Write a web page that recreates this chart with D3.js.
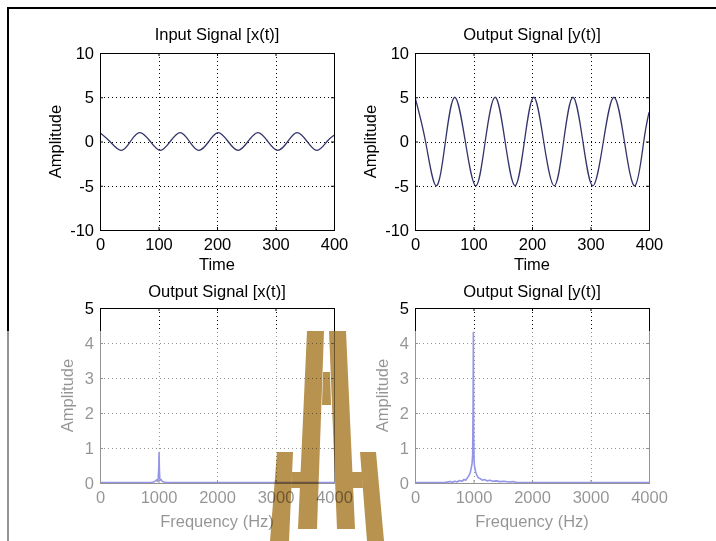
<!DOCTYPE html>
<html>
<head>
<meta charset="utf-8">
<script src="https://cdn.jsdelivr.net/npm/d3@7/dist/d3.min.js"></script>
<style>
  body { margin: 0; background: #fff; }
  svg text { font-family: "Liberation Sans", Arial, sans-serif; font-size: 16.5px; fill: #000; }
</style>
</head>
<body>
<div id="chart"></div>
<script>
// tick labels
var timeTicks = [0, 100, 200, 300, 400];
var ampTicks = [-10, -5, 0, 5, 10];
var freqTicks = [0, 1000, 2000, 3000, 4000];
var specTicks = [0, 1, 2, 3, 4, 5];

// x(t)
var inputTime = [0, 17, 36, 52, 68, 86, 103, 120, 137, 153, 169, 186, 202, 219, 236, 253, 270, 287, 304, 321, 337, 354, 371, 388, 400];
var inputAmp  = [1, 0, -1, 0, 1, 0, -1, 0, 1, 0, -1, 0, 1, 0, -1, 0, 1, 0, -1, 0, 1, 0, -1, 0, 0.7];

// y(t)
var outputTime = [0, 18, 36, 52, 68, 86, 104, 120, 137, 154, 171, 187, 203, 220, 238, 254, 270, 287, 304, 322, 340, 358, 376, 391, 400];
var outputAmp  = [5, 0, -5, 0, 5, 0, -5, 0, 5, 0, -5, 0, 5, 0, -5, 0, 5, 0, -5, 0, 5, 0, -5, 0, 3.3];

// spectrum of x
var specXFreq = [0, 800, 880, 920, 950, 970, 985, 995, 1005, 1010, 1015, 1022, 1030, 1045, 1060, 1090, 1150, 4000];
var specXAmp  = [0.01, 0.01, 0.02, 0.03, 0.06, 0.09, 0.05, 0.12, 0.45, 0.87, 0.4, 0.12, 0.08, 0.1, 0.05, 0.03, 0.01, 0.01];

// spectrum of y
var specYFreq = [0, 500, 600, 640, 680, 720, 760, 800, 840, 870, 900, 925, 945, 960, 975, 985, 993, 998, 1003, 1010, 1020, 1035, 1050, 1070, 1090, 1120, 1150, 1190, 1230, 1280, 1330, 1390, 1450, 1520, 1600, 1680, 1750, 2000, 4000];
var specYAmp  = [0.01, 0.01, 0.04, 0.02, 0.05, 0.03, 0.07, 0.05, 0.1, 0.08, 0.16, 0.22, 0.3, 0.42, 0.55, 0.8, 2.2, 4.3, 1.4, 0.6, 0.45, 0.33, 0.25, 0.18, 0.14, 0.12, 0.08, 0.1, 0.06, 0.08, 0.05, 0.06, 0.04, 0.05, 0.03, 0.04, 0.01, 0.01, 0.01];

var width = 716, height = 541;
var plainNum = function (d) { return String(d); }; // hyphen minus, no thousands comma

var svg = d3.select('#chart').append('svg')
    .attr('width', width)
    .attr('height', height);

svg.append('rect').attr('width', width).attr('height', height).attr('fill', '#fff');

// window frame (top and left edge)
svg.append('path')
    .attr('d', 'M8,' + height + 'V8H' + width)
    .attr('fill', 'none')
    .attr('stroke', '#000')
    .attr('stroke-width', 2);

var panels = [
    { left: 100, right: 334, top: 53, bottom: 230, xDom: [0, 400], yDom: [-10, 10],
      xTicks: timeTicks, yTicks: ampTicks, title: 'Input Signal [x(t)]', xLabel: 'Time',
      xs: inputTime, ys: inputAmp, color: '#34346c', width: 1.3, curve: d3.curveNatural,
      titleY: 40, xLabelY: 270, yLabelOff: 39 },
    { left: 415, right: 649, top: 53, bottom: 230, xDom: [0, 400], yDom: [-10, 10],
      xTicks: timeTicks, yTicks: ampTicks, title: 'Output Signal [y(t)]', xLabel: 'Time',
      xs: outputTime, ys: outputAmp, color: '#34346c', width: 1.3, curve: d3.curveNatural,
      titleY: 40, xLabelY: 270, yLabelOff: 39 },
    { left: 100, right: 334, top: 308, bottom: 483, xDom: [0, 4000], yDom: [0, 5],
      xTicks: freqTicks, yTicks: specTicks, title: 'Output Signal [x(t)]', xLabel: 'Frequency (Hz)',
      xs: specXFreq, ys: specXAmp, color: '#0000c8', width: 1.6, curve: d3.curveLinear,
      titleY: 297, xLabelY: 527, yLabelOff: 27 },
    { left: 415, right: 649, top: 308, bottom: 483, xDom: [0, 4000], yDom: [0, 5],
      xTicks: freqTicks, yTicks: specTicks, title: 'Output Signal [y(t)]', xLabel: 'Frequency (Hz)',
      xs: specYFreq, ys: specYAmp, color: '#0000c8', width: 1.6, curve: d3.curveLinear,
      titleY: 297, xLabelY: 527, yLabelOff: 27 }
];

panels.forEach(function (p, i) {
    var x = d3.scaleLinear().domain(p.xDom).range([p.left, p.right]);
    var y = d3.scaleLinear().domain(p.yDom).range([p.bottom, p.top]);
    var g = svg.append('g');

    // dotted grid, interior ticks only
    g.selectAll('.vgrid')
        .data(p.xTicks.slice(1, -1))
        .enter().append('line')
        .attr('x1', function (d) { return Math.round(x(d)) + 0.5; })
        .attr('x2', function (d) { return Math.round(x(d)) + 0.5; })
        .attr('y1', p.top).attr('y2', p.bottom)
        .attr('stroke', '#000').attr('stroke-dasharray', '1,3');
    g.selectAll('.hgrid')
        .data(p.yTicks.slice(1, -1))
        .enter().append('line')
        .attr('y1', function (d) { return Math.round(y(d)) + 0.5; })
        .attr('y2', function (d) { return Math.round(y(d)) + 0.5; })
        .attr('x1', p.left).attr('x2', p.right)
        .attr('stroke', '#000').attr('stroke-dasharray', '1,3');

    // the signal
    var clipId = 'clip' + i;
    g.append('clipPath').attr('id', clipId)
        .append('rect')
        .attr('x', p.left).attr('y', p.top - 1)
        .attr('width', p.right - p.left).attr('height', p.bottom - p.top + 1);
    var line = d3.line()
        .x(function (d) { return x(d[0]); })
        .y(function (d) { return y(d[1]); })
        .curve(p.curve);
    g.append('path')
        .datum(d3.zip(p.xs, p.ys))
        .attr('clip-path', 'url(#' + clipId + ')')
        .attr('d', line)
        .attr('fill', 'none')
        .attr('stroke', p.color)
        .attr('stroke-width', p.width)
        .attr('stroke-linejoin', 'round');

    // axes, matlab style ticks pointing inward
    g.append('g')
        .attr('transform', 'translate(0,' + p.bottom + ')')
        .call(d3.axisBottom(x).tickValues(p.xTicks).tickFormat(plainNum)
            .tickSizeInner(-3).tickSizeOuter(0).tickPadding(8));
    g.append('g')
        .attr('transform', 'translate(' + p.left + ',0)')
        .call(d3.axisLeft(y).tickValues(p.yTicks).tickFormat(plainNum)
            .tickSizeInner(-3).tickSizeOuter(0).tickPadding(6));
    g.append('g')
        .attr('transform', 'translate(0,' + p.top + ')')
        .call(d3.axisTop(x).tickValues(p.xTicks).tickSizeInner(-3).tickSizeOuter(0).tickFormat(''));
    g.append('g')
        .attr('transform', 'translate(' + p.right + ',0)')
        .call(d3.axisRight(y).tickValues(p.yTicks).tickSizeInner(-3).tickSizeOuter(0).tickFormat(''));
    g.selectAll('.domain').remove();
    g.selectAll('.tick line').attr('stroke', '#000');
    g.selectAll('.tick text').attr('fill', '#000');
    g.selectAll('g').attr('font-family', null).attr('font-size', null);

    // box
    g.append('rect')
        .attr('x', p.left + 0.5).attr('y', p.top + 0.5)
        .attr('width', p.right - p.left).attr('height', p.bottom - p.top)
        .attr('fill', 'none').attr('stroke', '#000');

    g.append('text')
        .attr('x', (p.left + p.right) / 2).attr('y', p.titleY)
        .attr('text-anchor', 'middle')
        .text(p.title);
    g.append('text')
        .attr('x', (p.left + p.right) / 2).attr('y', p.xLabelY)
        .attr('text-anchor', 'middle')
        .text(p.xLabel);
    g.append('text')
        .attr('transform', 'translate(' + (p.left - p.yLabelOff) + ',' + ((p.top + p.bottom) / 2) + ') rotate(-90)')
        .attr('text-anchor', 'middle')
        .text('Amplitude');
});

// the lower part of the screenshot is washed out
svg.append('rect')
    .attr('x', 0).attr('y', 331)
    .attr('width', width).attr('height', height - 331)
    .attr('fill', '#fff').attr('opacity', 0.58);

// gold watermark over the bottom
var mark = svg.append('g').style('mix-blend-mode', 'multiply').attr('fill', '#b8924f');
var markShapes = [
    [[307, 331], [324, 331], [317, 529], [298, 529]],   // tall left leg
    [[329, 331], [346, 331], [355, 529], [337, 529]],   // tall right leg
    [[323, 372], [330, 372], [331, 405], [322, 405]],   // top bar
    [[277, 452], [293, 452], [289, 541], [270, 541]],   // short left leg
    [[292, 472], [310, 472], [310, 488], [291, 488]],   // left bar
    [[360, 452], [376, 452], [384, 541], [367, 541]],   // short right leg
    [[344, 472], [362, 472], [363, 488], [345, 488]]    // right bar
];
mark.selectAll('polygon')
    .data(markShapes)
    .enter().append('polygon')
    .attr('points', function (d) { return d.join(' '); });
</script>
</body>
</html>
